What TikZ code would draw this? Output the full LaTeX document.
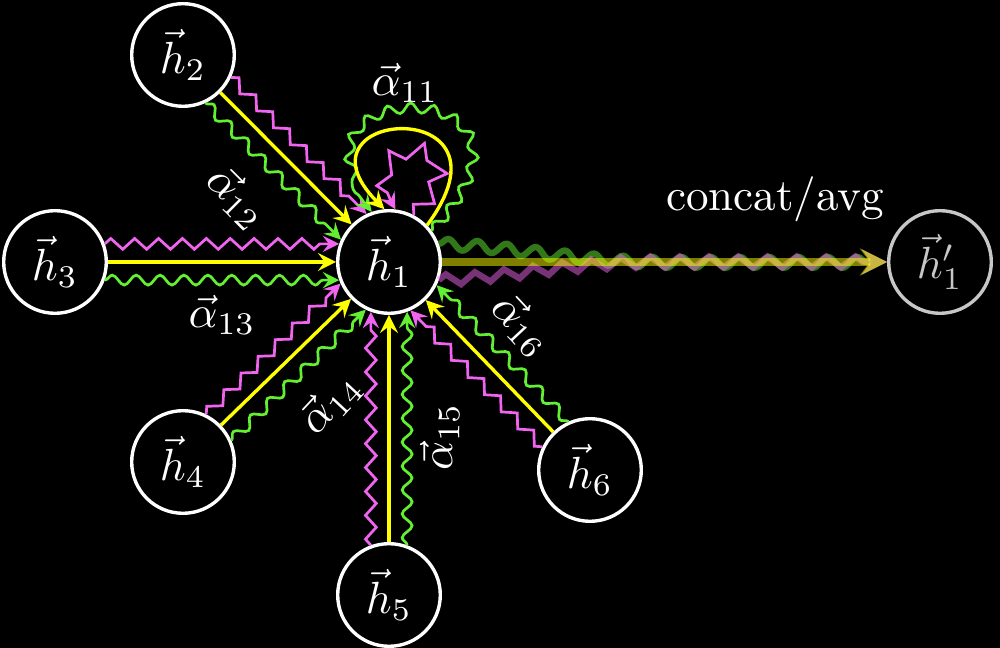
\documentclass[tikz,border=0pt]{standalone}
\usepackage{amsmath}
\usepackage{tikz}
\usetikzlibrary{arrows, decorations.pathmorphing}
\definecolor{attpink}{RGB}{240,100,240}
\definecolor{attgreen}{RGB}{100,240,50}
\definecolor{attyellow}{RGB}{255,255,0}
\tikzstyle{feat}=[circle, draw=white, line width=0.75pt, minimum size=0.8cm, inner sep=0pt, text=white]
\tikzset{
  headone/.style={
    draw=attyellow,
    line width=0.75pt,
    -stealth},
  headtwo/.style={
    draw=attpink,
    line width=0.6pt,
    -stealth,
    decorate,
    decoration={zigzag, amplitude=1.2pt, segment length=5.3pt, post length=3pt}},
  headthree/.style={
    draw=attgreen,
    line width=0.6pt,
    -stealth,
    decorate,
    decoration={snake, amplitude=1.1pt, segment length=5.3pt, post length=3pt}},
  coeff/.style={
    text=white}
}

\begin{document}
\begin{tikzpicture}[x=0.0078cm, y=0.0078cm]
  \path[use as bounding box, fill=black] (0,0) rectangle (1000,648);

  % Features
  \node[feat] (h1) at (389,386) {$\vec{h}_1$};
  \node[feat] (h2) at (183,593) {$\vec{h}_2$};
  \node[feat] (h3) at (55,386) {$\vec{h}_3$};
  \node[feat] (h4) at (183,186) {$\vec{h}_4$};
  \node[feat] (h5) at (389,53) {$\vec{h}_5$};
  \node[feat] (h6) at (590,178) {$\vec{h}_6$};
  \node[feat, draw=white!78!black, text=white!78!black] (h1p) at (940,386) {$\vec{h}'_1$};

  % Neighbours, three heads each
  \foreach \j/\a in {2/135,3/180,4/224,5/270,6/314}{
    \pgfmathtruncatemacro\pinang{mod(\a+340,360)}
    \pgfmathtruncatemacro\poutang{mod(\a+200,360)}
    \pgfmathtruncatemacro\ginang{mod(\a+20,360)}
    \pgfmathtruncatemacro\goutang{mod(\a+160,360)}
    \draw[headone] (h\j) -- (h1);
    \draw[headtwo] (h\j.\poutang) -- (h1.\pinang);
    \draw[headthree] (h\j.\goutang) -- (h1.\ginang);
  }

  % Self loop
  \draw[headthree, decoration={segment length=5pt}] (h1.36) .. controls (575,575) and (255,570) .. (h1.109);
  \draw[headone] (h1.44) .. controls (525,555) and (285,540) .. (h1.95);
  \draw[headtwo, decoration={amplitude=1.8pt, segment length=6.5pt, post length=2pt}] (h1.62) .. controls (495,515) and (345,520) .. (h1.83);

  % Coefficients
  \node[coeff] (a11) at (405,565) {$\vec{\alpha}_{11}$};
  \node[coeff, rotate=-45] (a12) at (237,451) {$\vec{\alpha}_{12}$};
  \node[coeff] (a13) at (222,333) {$\vec{\alpha}_{13}$};
  \node[coeff, rotate=47] (a14) at (330,245) {$\vec{\alpha}_{14}$};
  \node[coeff, rotate=90] (a15) at (440,211) {$\vec{\alpha}_{15}$};
  \node[coeff, rotate=-47] (a16) at (522,323) {$\vec{\alpha}_{16}$};

  % Aggregation
  \coordinate (merge) at (660,386);
  \draw[headthree, line width=1.4pt, opacity=0.5, decoration={segment length=6.5pt, amplitude=1.2pt, post length=4pt}] (h1.20) to[out=-3, in=180] (merge) -- (h1p);
  \draw[headtwo, line width=1.4pt, opacity=0.5, decoration={segment length=6.5pt, amplitude=1.2pt, post length=4pt}] (h1.-20) to[out=3, in=180] (merge) -- (h1p);
  \draw[headone, line width=1.6pt, opacity=0.5] (h1) -- (h1p);
  \node[coeff, anchor=south] (agg) at (775,410) {concat/avg};
\end{tikzpicture}
\end{document}
